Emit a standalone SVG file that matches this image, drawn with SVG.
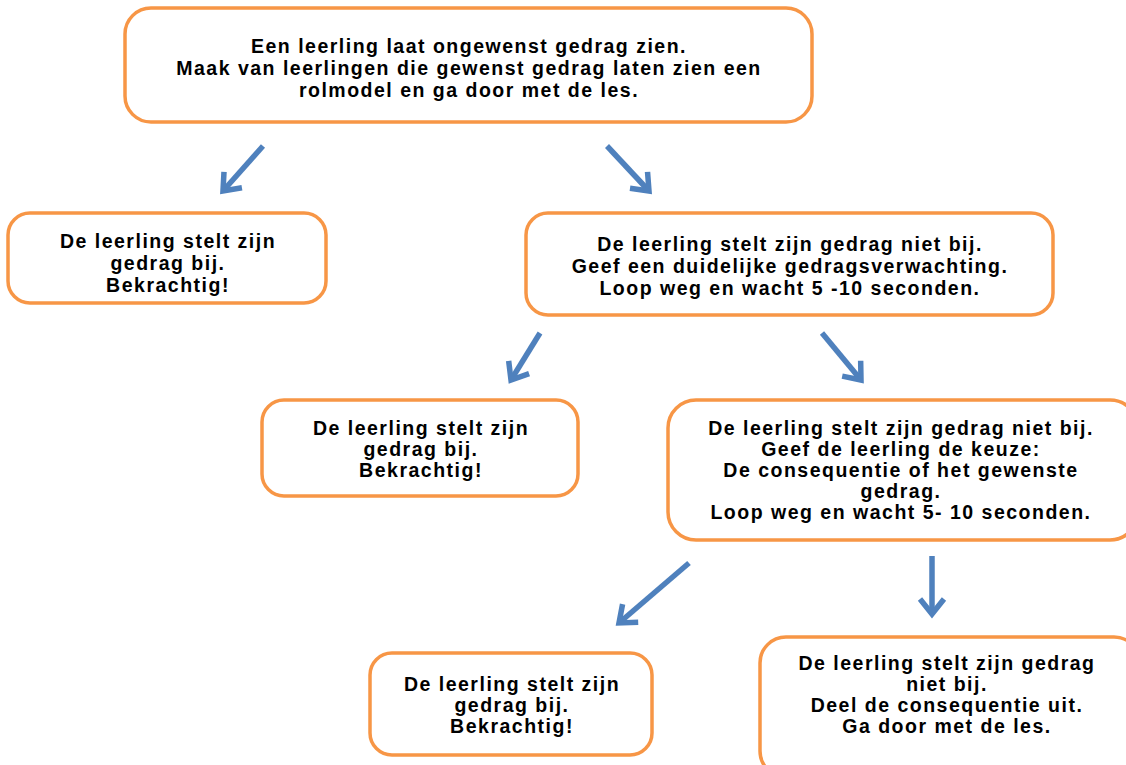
<svg xmlns="http://www.w3.org/2000/svg" width="1126" height="765" viewBox="0 0 1126 765">
<style>
.box{fill:#ffffff;stroke:#f79646;stroke-width:3.5}
.t{font-family:"Liberation Sans",Arial,Helvetica,sans-serif;font-weight:bold;font-size:19.5px;letter-spacing:1.5px;fill:#000000;text-anchor:middle}
.arr{stroke:#4f81bd;stroke-width:5.5;fill:none;marker-end:url(#head)}
</style>
<defs>
<marker id="head" markerUnits="userSpaceOnUse" viewBox="-25 -20 40 40" markerWidth="40" markerHeight="40" refX="0" refY="0" orient="auto" overflow="visible">
<path d="M-15,-12 L0,0 L-15,12" fill="none" stroke="#4f81bd" stroke-width="5.5" stroke-linejoin="miter"/>
</marker>
</defs>
<rect width="1126" height="765" fill="#ffffff"/>
<g id="connectors">
<line class="arr" x1="263" y1="146" x2="223" y2="191"/>
<line class="arr" x1="607" y1="146" x2="649" y2="191"/>
<line class="arr" x1="540" y1="333" x2="511" y2="380"/>
<line class="arr" x1="822" y1="333" x2="861" y2="380"/>
<line class="arr" x1="689" y1="563" x2="619" y2="623"/>
<line class="arr" x1="932" y1="556" x2="932" y2="614"/>
</g>
<g id="n1">
<rect class="box" x="125" y="8" width="687" height="114" rx="26"/>
<text class="t" x="469" y="53">Een leerling laat ongewenst gedrag zien.</text>
<text class="t" x="469" y="75">Maak van leerlingen die gewenst gedrag laten zien een</text>
<text class="t" x="469" y="97">rolmodel en ga door met de les.</text>
</g>
<g id="n2">
<rect class="box" x="8" y="213" width="318" height="90" rx="22"/>
<text class="t" x="168" y="248">De leerling stelt zijn</text>
<text class="t" x="168" y="270">gedrag bij.</text>
<text class="t" x="168" y="292">Bekrachtig!</text>
</g>
<g id="n3">
<rect class="box" x="526" y="213" width="527" height="102" rx="22"/>
<text class="t" x="790" y="251">De leerling stelt zijn gedrag niet bij.</text>
<text class="t" x="790" y="273">Geef een duidelijke gedragsverwachting.</text>
<text class="t" x="790" y="295">Loop weg en wacht 5 -10 seconden.</text>
</g>
<g id="n4">
<rect class="box" x="262" y="400" width="316" height="96" rx="22"/>
<text class="t" x="421" y="435">De leerling stelt zijn</text>
<text class="t" x="421" y="456">gedrag bij.</text>
<text class="t" x="421" y="477">Bekrachtig!</text>
</g>
<g id="n5">
<rect class="box" x="668" y="400" width="470" height="140" rx="28"/>
<text class="t" x="901" y="435">De leerling stelt zijn gedrag niet bij.</text>
<text class="t" x="901" y="456">Geef de leerling de keuze:</text>
<text class="t" x="901" y="477">De consequentie of het gewenste</text>
<text class="t" x="901" y="498">gedrag.</text>
<text class="t" x="901" y="519">Loop weg en wacht 5- 10 seconden.</text>
</g>
<g id="n6">
<rect class="box" x="370" y="653" width="282" height="102" rx="22"/>
<text class="t" x="512" y="691">De leerling stelt zijn</text>
<text class="t" x="512" y="712">gedrag bij.</text>
<text class="t" x="512" y="733">Bekrachtig!</text>
</g>
<g id="n7">
<rect class="box" x="760" y="637" width="380" height="140" rx="26"/>
<text class="t" x="947" y="670">De leerling stelt zijn gedrag</text>
<text class="t" x="947" y="691">niet bij.</text>
<text class="t" x="947" y="712">Deel de consequentie uit.</text>
<text class="t" x="947" y="733">Ga door met de les.</text>
</g>
</svg>
